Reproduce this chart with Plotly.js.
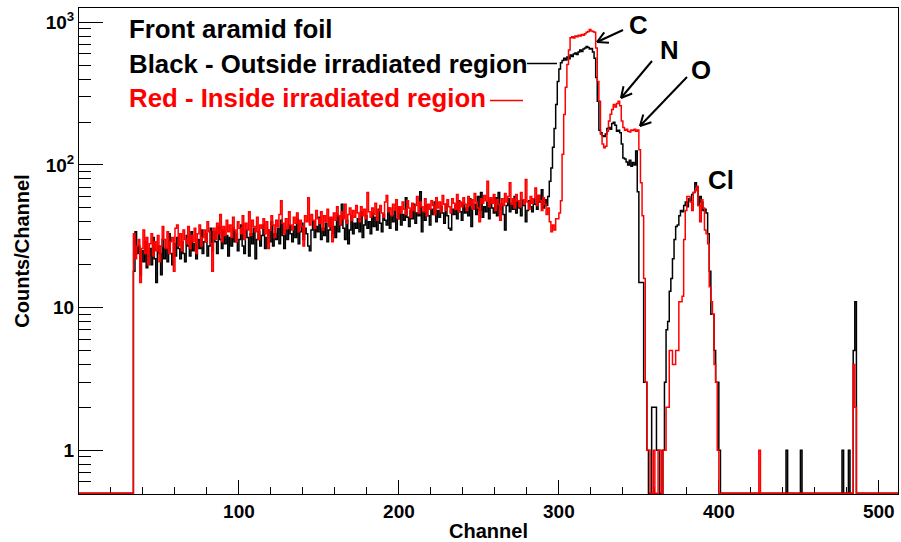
<!DOCTYPE html>
<html>
<head>
<meta charset="utf-8">
<script src="https://cdn.plot.ly/plotly-3.0.1.min.js"></script>
<style>
html,body{margin:0;padding:0;background:#ffffff;}
#chart{width:901px;height:542px;}
</style>
</head>
<body>
<div id="chart"></div>
<script>
// ---------------- DATA ----------------
const nChannels = 512;
const firstChannel = 34;          // first channel of the dense arrays below (earlier channels are empty)

// Black - outside irradiated region, counts for channels 34..401
const blackCounts = [
  18,34,24,27,17,25,21,29,19,23,
  26,20,31,22,15,27,24,17,30,22,
  26,21,33,24,20,28,23,31,26,22,
  29,24,21,32,27,23,34,25,28,22,
  30,26,35,24,29,33,23,27,36,25,
  34,29,24,37,30,26,35,28,32,23,
  31,27,36,29,33,25,30,38,27,24,
  35,31,23,33,28,36,22,30,34,27,
  32,38,26,31,35,29,40,27,33,30,
  36,28,41,32,26,35,30,38,33,29,
  37,31,42,28,34,39,30,36,33,27,
  25,35,40,31,37,34,43,30,36,32,
  39,29,35,42,33,37,31,45,34,38,
  53,36,30,41,28,35,44,33,39,36,
  42,34,47,31,38,44,36,40,33,46,
  37,43,35,49,39,34,45,41,38,50,
  36,44,40,47,35,42,51,38,45,41,
  59,43,37,48,42,53,39,46,44,65,
  34,47,41,52,44,38,49,45,55,40,
  48,43,51,46,39,53,44,36,35,49,
  45,52,42,56,47,41,54,46,50,44,
  58,37,49,53,45,60,48,64,43,51,
  47,55,42,57,50,46,59,44,64,49,
  53,45,35,52,58,47,54,49,60,46,
  55,50,44,57,52,40,48,56,51,47,
  58,53,49,61,55,67,50,57,52,60,
  77,95,133,180,265,385,470,520,540,560,
  545,570,555,590,575,600,610,595,620,640,
  625,650,660,675,665,650,655,620,560,410,
  280,175,168,160,158,165,180,183,178,195,
  199,190,172,175,168,140,112,110,105,100,
  108,98,104,100,125,65,15,15,15,3,
  3,1,0,0,2,2,2,1,1,0,
  0,1,3,7,8,13,16,22,30,37,
  38,44,48,47,52,55,51,58,56,62,
  64,75,70,52,60,55,48,49,46,33,
  18,9,9,5,3,3,1,0
];

// Red - inside irradiated region, counts for channels 34..401
const redCounts = [
  33,22,27,30,15,26,35,24,31,20,
  28,33,23,29,25,32,21,27,37,30,
  26,34,24,29,31,18,36,38,27,33,
  25,35,30,28,37,26,32,29,36,24,
  33,38,27,31,35,29,40,34,28,18,
  36,30,39,33,45,29,37,32,41,34,
  38,31,43,35,29,40,36,33,44,30,
  39,35,47,32,41,37,34,43,30,38,
  36,42,33,40,26,35,44,38,31,41,
  37,45,56,39,33,42,36,47,38,35,
  43,39,46,34,41,37,27,44,40,59,
  38,45,41,36,48,42,39,47,35,44,
  40,49,37,43,29,46,41,51,44,38,
  47,42,53,39,45,50,41,48,43,52,
  46,40,51,44,49,42,64,47,43,50,
  45,54,41,48,52,46,43,55,61,47,
  50,44,53,48,57,42,51,46,55,49,
  45,56,50,43,54,48,52,60,46,55,
  51,47,58,44,53,49,56,52,45,59,
  50,55,47,61,53,48,57,51,46,58,
  54,49,62,47,55,51,59,53,48,60,
  52,57,49,63,55,50,40,58,54,61,
  56,77,51,59,54,62,48,57,53,41,
  58,52,63,55,60,75,53,58,50,62,
  56,51,64,57,53,79,55,49,60,54,
  58,69,52,61,56,48,59,53,45,50,
  40,34,38,35,42,42,46,56,119,226,
  350,505,640,780,790,775,800,790,810,800,
  820,810,830,850,860,890,870,860,850,660,
  385,280,164,140,132,135,172,203,227,245,
  265,255,270,280,260,203,183,175,178,172,
  170,176,174,178,172,176,128,75,44,16,
  3,1,1,0,0,1,0,0,1,1,
  0,1,1,2,2,5,5,4,4,5,
  5,11,11,12,30,48,60,60,55,48,
  64,66,71,52,40,57,50,35,33,28,
  14,11,9,4,3,1,0,0
];

// isolated counts above channel 401
const blackSparseChannels = [442, 451, 477, 481, 484, 485];
const blackSparseCounts   = [1, 1, 1, 1, 5, 11];
const redSparseChannels   = [425, 484, 485];
const redSparseCounts     = [1, 4, 2];

// axis ticks / labels
const xTickVals  = [100, 200, 300, 400, 500];
const xMinorVals = [20, 40, 60, 80, 120, 140, 160, 180, 220, 240, 260, 280, 320, 340, 360, 380, 420, 440, 460, 480];
const yTickVals  = [1, 10, 100, 1000];
const yTickText  = ['1', '10', '10<sup>2</sup>', '10<sup>3</sup>'];
const yMinorVals = [0.6, 0.7, 0.8, 0.9, 2, 3, 4, 5, 6, 7, 8, 9, 20, 30, 40, 50, 60, 70, 80, 90, 200, 300, 400, 500, 600, 700, 800, 900];

const xTitle = 'Channel';
const yTitle = 'Counts/Channel';
const legendTexts = ['Front aramid foil', 'Black - Outside irradiated region', 'Red - Inside irradiated region'];
const peakLabels = ['C', 'N', 'O', 'Cl'];

// ---------------- BUILD ----------------
const yFloor = 0.5;     // empty bins are drawn on the bottom of the log axis (as ROOT does)
const FONT = 'Liberation Sans, Arial, Helvetica, sans-serif';

function buildHist(dense, sparseCh, sparseVals) {
  const h = new Array(nChannels).fill(0);
  dense.forEach((v, i) => { h[firstChannel + i] = v; });
  sparseCh.forEach((c, i) => { h[c] = sparseVals[i]; });
  return h;
}
function stepTrace(h, color) {
  const x = [], y = [];
  for (let i = 0; i < nChannels; i++) { x.push(i); y.push(h[i] > 0 ? h[i] : yFloor); }
  x.push(nChannels); y.push(h[nChannels - 1] > 0 ? h[nChannels - 1] : yFloor);
  return {
    type: 'scatter', mode: 'lines', x: x, y: y,
    line: {shape: 'hv', color: color, width: 1.5},
    hoverinfo: 'skip', showlegend: false
  };
}

const blackHist = buildHist(blackCounts, blackSparseChannels, blackSparseCounts);
const redHist = buildHist(redCounts, redSparseChannels, redSparseCounts);

// plot-area pixel frame (for placing text / arrows)
const M = {l: 79, r: 3, t: 8, b: 48};
const W = 901, H = 542;
const PL = M.l, PR = W - M.r, PT = M.t, PB = H - M.b;
const pxX = x => (x - PL) / (PR - PL);
const pxY = y => (PB - y) / (PB - PT);

const annotations = [];
const textPos = [[127, 29], [127, 64], [127, 98]];
const textCol = ['#000000', '#000000', '#ff0000'];
legendTexts.forEach((t, i) => {
  annotations.push({
    xref: 'paper', yref: 'paper', x: pxX(textPos[i][0]), y: pxY(textPos[i][1]),
    xanchor: 'left', yanchor: 'middle', text: t, showarrow: false,
    font: {family: FONT, size: 25.8, weight: 'bold', color: textCol[i]}
  });
});
const peakPos = [[638, 25], [669.5, 50], [701, 70], [721, 180]];
peakLabels.forEach((t, i) => {
  annotations.push({
    xref: 'paper', yref: 'paper', x: pxX(peakPos[i][0]), y: pxY(peakPos[i][1]),
    xanchor: 'center', yanchor: 'middle', text: t, showarrow: false,
    font: {family: FONT, size: 25.8, weight: 'bold', color: '#000000'}
  });
});

const shapes = [];
function seg(x0, y0, x1, y1, color, w) {
  shapes.push({type: 'line', xref: 'paper', yref: 'paper',
    x0: pxX(x0), y0: pxY(y0), x1: pxX(x1), y1: pxY(y1),
    line: {color: color, width: w}});
}
// legend sample lines
seg(527, 63.5, 557, 63.5, '#000000', 1.5);
seg(490, 100.5, 523, 100.5, '#ff0000', 1.5);
// arrows (head x,y ; tail x,y)
const arrows = [[597, 42, 623, 30], [621, 98, 652, 61], [640, 126, 687, 77]];
arrows.forEach(a => {
  const [hx, hy, tx, ty] = a;
  seg(tx, ty, hx, hy, '#000000', 2);
  const len = Math.hypot(tx - hx, ty - hy);
  const ux = (tx - hx) / len, uy = (ty - hy) / len;
  const ang = 28 * Math.PI / 180, wl = 12;
  [ang, -ang].forEach(g => {
    const wx = ux * Math.cos(g) - uy * Math.sin(g);
    const wy = ux * Math.sin(g) + uy * Math.cos(g);
    seg(hx, hy, hx + wx * wl, hy + wy * wl, '#000000', 2);
  });
});

const tickFont = {family: FONT, size: 19, weight: 'bold', color: '#000000'};
const titleFont = {family: FONT, size: 20, weight: 'bold', color: '#000000'};

const layout = {
  width: W, height: H,
  margin: M,
  paper_bgcolor: '#ffffff', plot_bgcolor: '#ffffff',
  showlegend: false,
  xaxis: {
    range: [0, nChannels], showgrid: false, zeroline: false,
    showline: true, mirror: true, linecolor: '#000000', linewidth: 1,
    ticks: 'inside', ticklen: 14, tickwidth: 1, tickcolor: '#000000',
    tickmode: 'array', tickvals: xTickVals, tickfont: tickFont,
    minor: {tickmode: 'array', tickvals: xMinorVals, ticks: 'inside', ticklen: 7, tickwidth: 1, tickcolor: '#000000'},
    title: {text: xTitle, font: titleFont, standoff: 8},
    layer: 'below traces', fixedrange: true
  },
  yaxis: {
    type: 'log', range: [Math.log10(0.494), 3.1], showgrid: false, zeroline: false,
    showline: true, mirror: true, linecolor: '#000000', linewidth: 1,
    ticks: 'inside', ticklen: 24, tickwidth: 1, tickcolor: '#000000',
    tickmode: 'array', tickvals: yTickVals, ticktext: yTickText, tickfont: tickFont,
    minor: {tickmode: 'array', tickvals: yMinorVals, ticks: 'inside', ticklen: 12, tickwidth: 1, tickcolor: '#000000'},
    title: {text: yTitle, font: titleFont, standoff: 10},
    layer: 'below traces', fixedrange: true
  },
  annotations: annotations,
  shapes: shapes
};

Plotly.newPlot('chart', [stepTrace(blackHist, '#000000'), stepTrace(redHist, '#ff0000')], layout,
  {displayModeBar: false, staticPlot: true});
</script>
</body>
</html>
